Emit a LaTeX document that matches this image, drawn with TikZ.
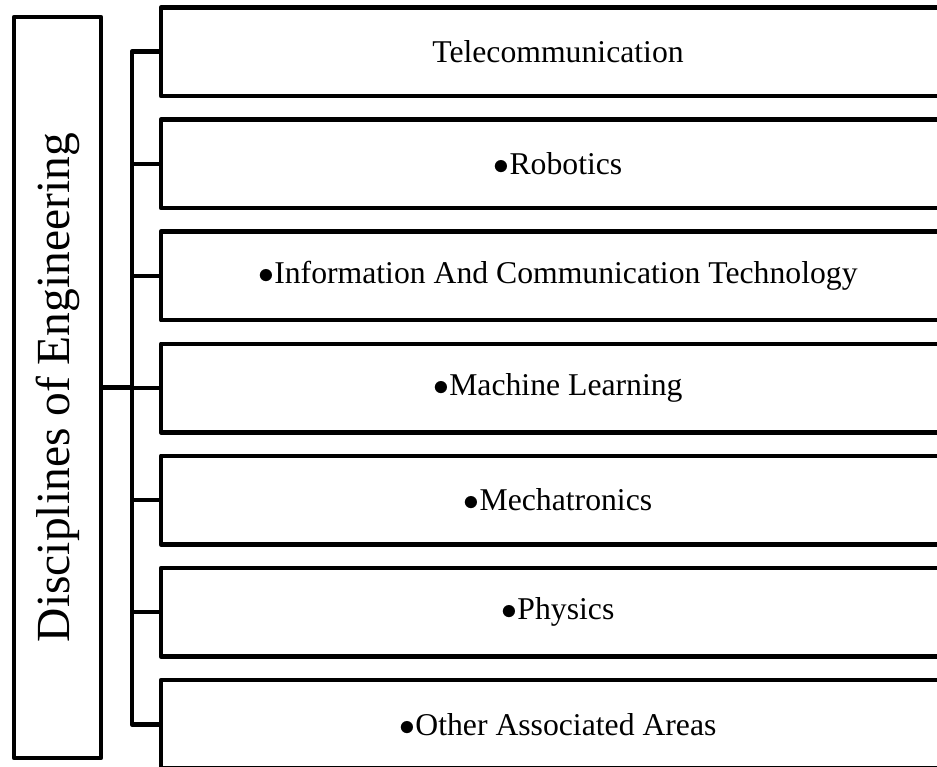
\documentclass[tikz,border=0pt]{standalone}
\usepackage{fix-cm}
\usepackage{fontspec}
\setmainfont{Liberation Serif}
\usetikzlibrary{matrix}

\tikzset{
  area/.style={draw, line width=4.5pt, minimum width=794pt, minimum height=88.5pt,
    font=\fontsize{31.7}{36}\selectfont},
  link/.style={line width=4.5pt, line join=round}
}

\begin{document}
\begin{tikzpicture}[x=1pt,y=-1pt,line join=round]
  \useasboundingbox (0,0) rectangle (937,767);
  \clip (0,0) rectangle (937,767);

  \matrix (m) [matrix of nodes, row sep=19.1pt, nodes={area}] at (558,388)
  {
     Telecommunication \\
     $\bullet$Robotics \\
     $\bullet$Information And Communication Technology \\
     $\bullet$Machine Learning \\
     $\bullet$Mechatronics \\
     $\bullet$Physics \\
     $\bullet$Other Associated Areas \\
  };

  \node[draw, line width=4.5pt, rotate=90, minimum width=741pt, minimum height=87pt,
    font=\fontsize{47.5}{54}\selectfont] (title) at (57.5,387.5) {Disciplines of Engineering};

  \coordinate (bus) at (132,0);
  \draw[link] (m-1-1.west) -- (m-1-1.west -| bus) -- (m-7-1.west -| bus) -- (m-7-1.west);
  \foreach \i in {2,...,6}
    \draw[link] (m-\i-1.west) -- (m-\i-1.west -| bus);
  \draw[link] (title.south) -- (title.south -| bus);
\end{tikzpicture}
\end{document}
